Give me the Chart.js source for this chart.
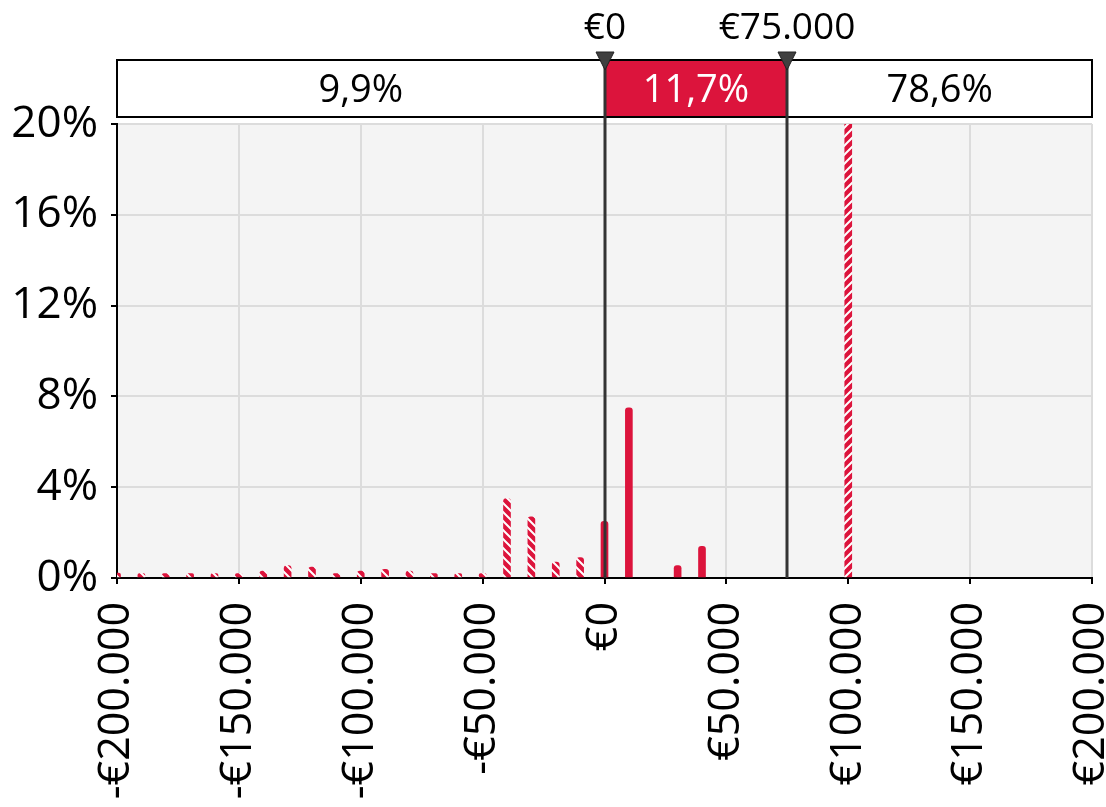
<!DOCTYPE html>
<html>
<head>
<meta charset="utf-8">
<script src="https://cdn.jsdelivr.net/npm/chart.js@4.4.1/dist/chart.umd.min.js"></script>
<style>
    html, body { margin: 0; padding: 0; background: #fff; }
</style>
</head>
<body>
<canvas id="chartVerdeling" width="1106" height="807"></canvas>
<script>
// Data
const amounts = [-200000, -190000, -180000, -170000, -160000, -150000, -140000, -130000,
    -120000, -110000, -100000, -90000, -80000, -70000, -60000, -50000,
    -40000, -30000, -20000, -10000, 0, 10000, 30000, 40000, 100000];
const shares = [0.22, 0.2, 0.2, 0.2, 0.2, 0.2, 0.3, 0.55,
    0.48, 0.2, 0.3, 0.38, 0.3, 0.2, 0.2, 0.2,
    3.5, 2.7, 0.7, 0.9, 2.5, 7.5, 0.55, 1.4, 78.6];
const xTicks = [-200000, -150000, -100000, -50000, 0, 50000, 100000, 150000, 200000];
const yTicks = [0, 4, 8, 12, 16, 20];
const thresholds = [0, 75000];
const thresholdLabels = ['€0', '€75.000'];
const bandLabels = ['9,9%', '11,7%', '78,6%'];

const RED = '#DC143C';
const FONT = '"Open Sans", "Noto Sans", sans-serif';

// Euro formatting with dots as thousand separators
const euro = v => (v < 0 ? '-' : '') + '€' + Math.abs(v).toString().replace(/\B(?=(\d{3})+(?!\d))/g, '.');

// Hatch pattern for bars outside the highlighted range
function makeHatch(dir) {
    const s = 9;
    const c = document.createElement('canvas');
    c.width = s; c.height = s;
    const g = c.getContext('2d');
    g.fillStyle = RED;
    g.fillRect(0, 0, s, s);
    g.strokeStyle = '#ffffff';
    g.lineWidth = 2;
    g.beginPath();
    if (dir === '/') {
        g.moveTo(-1, s + 1); g.lineTo(s + 1, -1);
        g.moveTo(-1, 1); g.lineTo(1, -1);
        g.moveTo(s - 1, s + 1); g.lineTo(s + 1, s - 1);
    } else {
        g.moveTo(-1, -1); g.lineTo(s + 1, s + 1);
        g.moveTo(s - 1, -1); g.lineTo(s + 1, 1);
        g.moveTo(-1, s - 1); g.lineTo(1, s + 1);
    }
    g.stroke();
    return g.createPattern(c, 'repeat');
}
const hatchNeg = makeHatch('\\');
const hatchPos = makeHatch('/');

// Plot background
const plotBackground = {
    id: 'plotBackground',
    beforeDraw(chart) {
        const { ctx, chartArea: a } = chart;
        ctx.save();
        ctx.fillStyle = '#f4f4f4';
        ctx.fillRect(a.left, a.top, a.right - a.left, a.bottom - a.top);
        ctx.restore();
    }
};

// Band with shares above the plot, threshold lines and markers
const thresholdBand = {
    id: 'thresholdBand',
    afterDraw(chart) {
        const { ctx, chartArea: a } = chart;
        const x = chart.scales.x;
        const top = 60, bottom = 117;
        const edges = [a.left, ...thresholds.map(t => x.getPixelForValue(t)), a.right];
        ctx.save();
        for (let i = 0; i < bandLabels.length; i++) {
            const x0 = edges[i], x1 = edges[i + 1];
            ctx.fillStyle = i === 1 ? RED : '#ffffff';
            ctx.fillRect(x0, top, x1 - x0, bottom - top);
            ctx.fillStyle = i === 1 ? '#ffffff' : '#000000';
            ctx.font = '38px ' + FONT;
            ctx.textAlign = 'center';
            ctx.textBaseline = 'middle';
            ctx.fillText(bandLabels[i], (x0 + x1) / 2, (top + bottom) / 2 + 3);
        }
        ctx.strokeStyle = '#000';
        ctx.lineWidth = 2;
        ctx.strokeRect(a.left, top, a.right - a.left, bottom - top);

        thresholds.forEach((t, i) => {
            const px = Math.round(x.getPixelForValue(t));
            ctx.strokeStyle = '#333333';
            ctx.lineWidth = 3;
            ctx.beginPath();
            ctx.moveTo(px, top);
            ctx.lineTo(px, a.bottom);
            ctx.stroke();

            ctx.fillStyle = '#404040';
            ctx.strokeStyle = '#222';
            ctx.lineWidth = 1;
            ctx.beginPath();
            ctx.moveTo(px - 9, 52);
            ctx.lineTo(px + 9, 52);
            ctx.lineTo(px, 70);
            ctx.closePath();
            ctx.fill();
            ctx.stroke();

            ctx.fillStyle = '#000';
            ctx.font = '37px ' + FONT;
            ctx.textAlign = 'center';
            ctx.textBaseline = 'alphabetic';
            ctx.fillText(thresholdLabels[i], px, 39);
        });
        ctx.restore();
    }
};

const ctxVerdeling = document.getElementById('chartVerdeling').getContext('2d');
new Chart(ctxVerdeling, {
    type: 'bar',
    data: {
        datasets: [{
            data: amounts.map((a, i) => ({ x: a, y: shares[i] })),
            backgroundColor: c => {
                const v = c.raw ? c.raw.x : 0;
                if (v < 0) return hatchNeg;
                if (v > thresholds[1]) return hatchPos;
                return RED;
            },
            barThickness: 7,
            borderRadius: { topLeft: 3, topRight: 3 },
            borderSkipped: 'bottom',
            clip: 0
        }]
    },
    options: {
        responsive: false,
        animation: false,
        layout: { padding: { top: 124, right: 14, left: 0, bottom: 0 } },
        plugins: { legend: { display: false }, tooltip: { enabled: false } },
        scales: {
            x: {
                type: 'linear',
                min: -200000,
                max: 200000,
                offset: false,
                afterBuildTicks: s => { s.ticks = xTicks.map(v => ({ value: v })); },
                afterFit: s => { s.height = 229; s.paddingLeft = 0; s.paddingRight = 0; },
                grid: { offset: false, color: '#dcdcdc', lineWidth: 2, tickColor: '#000', tickLength: 6, tickWidth: 2 },
                border: { color: '#000', width: 2 },
                ticks: {
                    minRotation: 90,
                    maxRotation: 90,
                    autoSkip: false,
                    padding: 18,
                    color: '#000',
                    font: { family: FONT, size: 43 },
                    callback: v => euro(v)
                }
            },
            y: {
                min: 0,
                max: 20,
                afterBuildTicks: s => { s.ticks = yTicks.map(v => ({ value: v })); },
                afterFit: s => { s.width = 117; },
                grid: { color: '#dcdcdc', lineWidth: 2, tickColor: '#000', tickLength: 6, tickWidth: 2 },
                border: { color: '#000', width: 2 },
                ticks: {
                    padding: 13,
                    color: '#000',
                    font: { family: FONT, size: 44 },
                    callback: v => v + '%'
                }
            }
        }
    },
    plugins: [plotBackground, thresholdBand]
});
</script>
</body>
</html>
